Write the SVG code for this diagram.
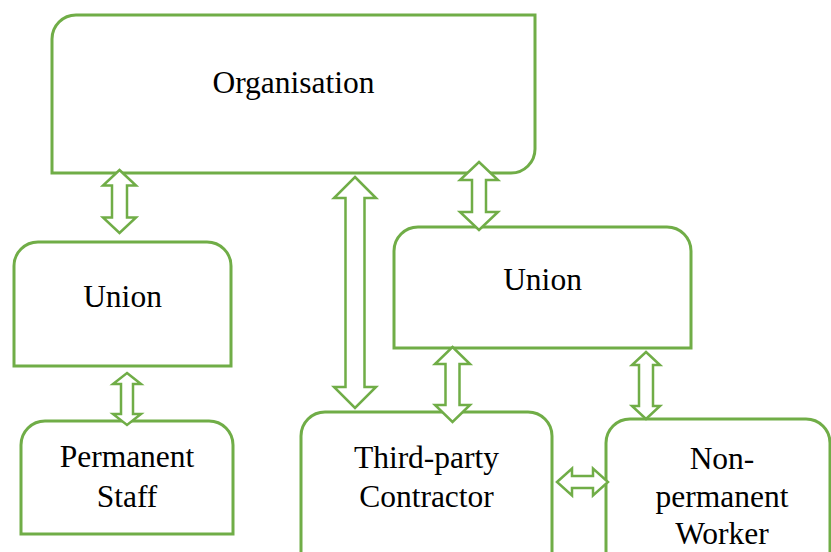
<svg xmlns="http://www.w3.org/2000/svg" width="831" height="552" viewBox="0 0 831 552">
<style>
.box{fill:#fff;stroke:#70AD47;stroke-width:3}
.arr{fill:#fff;stroke:#70AD47;stroke-width:2.5;stroke-linejoin:miter}
.t{font-family:"Liberation Serif","Times New Roman",serif;font-size:31.5px;fill:#000;text-anchor:middle}
</style>
<rect width="831" height="552" fill="#fff"/>
<g id="organisation">
<path class="box" d="M52,173 V39 A24,24 0 0 1 76,15 H535 V149 A24,24 0 0 1 511,173 Z"/>
<text class="t" x="293.5" y="93">Organisation</text>
</g>
<g id="union-left">
<path class="box" d="M14,366 V266 A24,24 0 0 1 38,242 H207 A24,24 0 0 1 231,266 V366 Z"/>
<text class="t" x="122.5" y="307">Union</text>
</g>
<g id="union-right">
<path class="box" d="M394,348 V251 A24,24 0 0 1 418,227 H667 A24,24 0 0 1 691,251 V348 Z"/>
<text class="t" x="542.5" y="290">Union</text>
</g>
<g id="permanent-staff">
<path class="box" d="M21,534 V445 A24,24 0 0 1 45,421 H209 A24,24 0 0 1 233,445 V534 Z"/>
<text class="t" x="127" y="467">Permanent</text>
<text class="t" x="127" y="507">Staff</text>
</g>
<g id="third-party">
<path class="box" d="M301,570 V436 A24,24 0 0 1 325,412 H528 A24,24 0 0 1 552,436 V570 Z"/>
<text class="t" x="426.5" y="468">Third-party</text>
<text class="t" x="426.5" y="507">Contractor</text>
</g>
<g id="non-permanent">
<path class="box" d="M606,570 V443 A24,24 0 0 1 630,419 H806 A24,24 0 0 1 830,443 V570 Z"/>
<text class="t" x="722" y="469">Non-</text>
<text class="t" x="722" y="507">permanent</text>
<text class="t" x="722" y="544">Worker</text>
</g>
<g id="connectors">
<polygon class="arr" points="119.5,170 136,185.5 127,185.5 127,217.5 136,217.5 119.5,233 103,217.5 112,217.5 112,185.5 103,185.5"/>
<polygon class="arr" points="127,373 141,384 133,384 133,414 141,414 127,425 113,414 121,414 121,384 113,384"/>
<polygon class="arr" points="355,177 376,198 364.5,198 364.5,387 376,387 355,408 334,387 345.5,387 345.5,198 334,198"/>
<polygon class="arr" points="479,162 498,180 486,180 486,212 498,212 479,230 460,212 472,212 472,180 460,180"/>
<polygon class="arr" points="452.5,347 470,364 459.5,364 459.5,405 470,405 452.5,422 435,405 445.5,405 445.5,364 435,364"/>
<polygon class="arr" points="646,352 660,365 653,365 653,406 660,406 646,419 632,406 639,406 639,365 632,365"/>
<polygon class="arr" points="557,482 572,468.5 572,476 593,476 593,468.5 608,482 593,495.5 593,488 572,488 572,495.5"/>
</g>
</svg>
